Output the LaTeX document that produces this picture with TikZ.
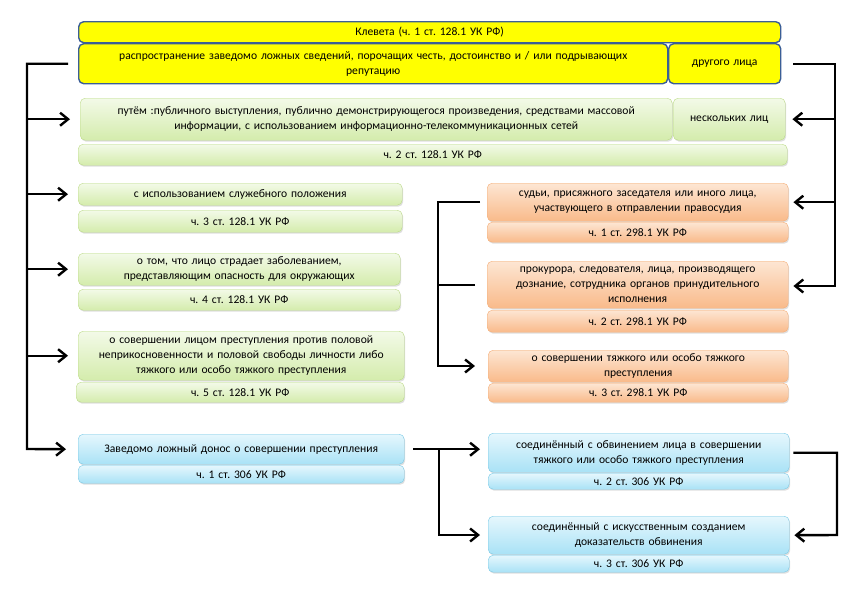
\documentclass[tikz,border=0pt]{standalone}
\usepackage{fontspec}
\setmainfont{Carlito}
\usetikzlibrary{arrows.meta,shadows}
\frenchspacing

\definecolor{yelfill}{HTML}{FFFF00}
\definecolor{yeldraw}{HTML}{3B5E96}
\definecolor{grtop}{HTML}{F3FAE8}
\definecolor{grbot}{HTML}{D4ECAC}
\definecolor{grdraw}{HTML}{BCDB86}
\definecolor{ortop}{HTML}{FDE6D3}
\definecolor{orbot}{HTML}{F9BA8A}
\definecolor{ordraw}{HTML}{F4AE78}
\definecolor{bltop}{HTML}{E6F7FD}
\definecolor{blbot}{HTML}{A9E2F6}
\definecolor{bldraw}{HTML}{78C9E6}

\tikzset{
  card/.style={rounded corners=5pt, inner sep=0pt, align=center,
    anchor=north west, font=\fontsize{11.6}{15}\selectfont},
  sz/.style 2 args={minimum width=#1pt, text width=#1pt, minimum height=#2pt},
  yelbox/.style={card, fill=yelfill, draw=yeldraw, line width=1.4pt},
  grbox/.style={card, top color=grtop, bottom color=grbot, draw=grdraw,
    drop shadow={opacity=0.25, shadow xshift=1pt, shadow yshift=-1.5pt}},
  orbox/.style={card, top color=ortop, bottom color=orbot, draw=ordraw,
    drop shadow={opacity=0.25, shadow xshift=1pt, shadow yshift=-1.5pt}},
  blbox/.style={card, top color=bltop, bottom color=blbot, draw=bldraw,
    drop shadow={opacity=0.25, shadow xshift=1pt, shadow yshift=-1.5pt}},
  conn/.style={line width=2.4pt},
  arr/.style={conn, -{Straight Barb[length=8pt, width=13pt]}}
}

\begin{document}
\begin{tikzpicture}[x=1pt, y=-1pt]
  \useasboundingbox (0,0) rectangle (854,590);

  % 128.1
  \node[yelbox, sz={702}{21}] (title) at (78,21) {Клевета (ч. 1 ст. 128.1 УК РФ)};
  \node[yelbox, sz={589}{40}] (yel) at (78,43) {распространение\ заведомо ложных\ сведений, порочащих честь, достоинство\ и / или подрывающих\\ репутацию};
  \node[yelbox, sz={112}{40}] (other) at (668,43) {другого лица};

  \node[grbox, sz={592}{42}] (g1) at (80,98) {путём :публичного\ выступления, публично\ демонстрирующегося\ произведения, средствами массовой\\ информации, с использованием информационно-телекоммуникационных\ сетей};
  \node[grbox, sz={112}{42}] (g1r) at (673,98) {нескольких лиц};
  \node[grbox, sz={709}{21}] (g1c) at (78,144) {ч. 2 ст. 128.1 УК РФ};

  \node[grbox, sz={324}{22}] (g2) at (78,183) {с использованием служебного положения};
  \node[grbox, sz={324}{22}] (g2c) at (78,210) {ч. 3 ст. 128.1 УК РФ};

  \node[grbox, sz={322}{32}] (g3) at (78,253) {о том, что лицо страдает заболеванием,\\ представляющим опасность для окружающих};
  \node[grbox, sz={322}{21}] (g3c) at (78,289) {ч. 4 ст. 128.1 УК РФ};

  \node[grbox, sz={326}{49}] (g4) at (78,331) {о совершении лицом преступления против половой\\ неприкосновенности\ и половой свободы личности либо\\ тяжкого или особо тяжкого преступления};
  \node[grbox, sz={328}{20}] (g4c) at (76,382) {ч. 5 ст. 128.1 УК РФ};

  % 298.1
  \node[orbox, sz={301}{38}] (o1) at (487,183) {судьи, присяжного заседателя или иного лица,\\ участвующего\ в отправлении правосудия};
  \node[orbox, sz={301}{20}] (o1c) at (487,222) {ч. 1 ст. 298.1 УК РФ};

  \node[orbox, sz={301}{47}] (o2) at (487,261) {прокурора,\ следователя, лица, производящего\\ дознание, сотрудника органов принудительного\\ исполнения};
  \node[orbox, sz={301}{22}] (o2c) at (487,310) {ч. 2 ст. 298.1 УК РФ};

  \node[orbox, sz={300}{32}] (o3) at (488,350) {о совершении тяжкого или особо тяжкого\\ преступления};
  \node[orbox, sz={300}{19}] (o3c) at (488,383) {ч. 3 ст. 298.1 УК РФ};

  % 306
  \node[blbox, sz={326}{30}] (b1) at (78,434) {Заведомо ложный донос о совершении преступления};
  \node[blbox, sz={326}{18}] (b1c) at (78,465) {ч. 1 ст. 306 УК РФ};

  \node[blbox, sz={301}{39}] (b2) at (488,433) {соединённый\ с обвинением лица в совершении\\ тяжкого или особо тяжкого преступления};
  \node[blbox, sz={301}{16}] (b2c) at (488,473) {ч. 2 ст. 306 УК РФ};

  \node[blbox, sz={301}{38}] (b3) at (488,516) {соединённый\ с искусственным созданием\\ доказательств обвинения};
  \node[blbox, sz={301}{17}] (b3c) at (488,555) {ч. 3 ст. 306 УК РФ};

  % rails
  \coordinate (lr) at (27,449);
  \coordinate (rr) at (835,286);
  \coordinate (ol) at (438,366);
  \coordinate (bl) at (439,535);
  \coordinate (br) at (837,535);

  % left rail
  \draw[arr] ([xshift=-10pt]yel.west) -| (lr) -- ([xshift=-12pt]b1.west);
  \draw[arr] (lr |- g1.west) -- ([xshift=-10pt]g1.west);
  \draw[arr] (lr |- g2.west) -- ([xshift=-10pt]g2.west);
  \draw[arr] (lr |- g3.west) -- ([xshift=-10pt]g3.west);
  \draw[arr] (lr |- g4.west) -- ([xshift=-10pt]g4.west);

  % right rail
  \draw[arr] ([xshift=12pt]other.east) -| (rr) -- ([xshift=5pt]rr -| o2.east);
  \draw[arr] (rr |- g1r.east) -- ([xshift=7pt]g1r.east);
  \draw[arr] (rr |- o1.east) -- ([xshift=5pt]o1.east);

  % 298.1 left
  \draw[arr] ([xshift=-7pt]o1.west) -| (ol) -- ([xshift=-13pt]ol -| o3.west);
  \draw[conn] ([xshift=-12pt]o2.west) -- (ol |- o2.west);

  % 306
  \draw[arr] ([xshift=9pt]b1.east) -- ([xshift=-8pt]b1.east -| b2.west);
  \draw[arr] (bl |- b1.east) -- (bl) -- ([xshift=-8pt]bl -| b3.west);
  \draw[arr] ([xshift=4pt]b2.east) -| (br) -- ([xshift=5pt]b3.east);
\end{tikzpicture}
\end{document}
